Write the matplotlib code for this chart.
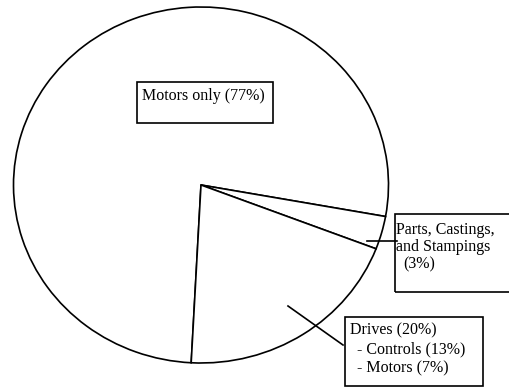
import matplotlib
matplotlib.use("Agg")
import matplotlib.pyplot as plt
from matplotlib.patches import Rectangle
from matplotlib.lines import Line2D

# Data
categories = ["Motors only", "Parts, Castings, and Stampings", "Drives"]
shares = [77, 3, 20]
drive_parts = ["Controls", "Motors"]
drive_shares = [13, 7]

W, H = 509, 388
fig = plt.figure(figsize=(W / 100, H / 100), dpi=100)
fig.patch.set_facecolor("white")

# pie geometry in pixels
cx, cy, rx, ry = 201, 185, 187.5, 178
ax = fig.add_axes([0, 0, 1, 1])
ax.pie(shares, startangle=-93, counterclock=False, radius=1,
       colors=["white"] * len(shares),
       wedgeprops=dict(edgecolor="black", linewidth=1.2))
ax.set_aspect("auto")
ax.set_xlim(-cx / rx, (W - cx) / rx)
ax.set_ylim(-(H - cy) / ry, cy / ry)
ax.axis("off")

def fx(px):
    return px / W

def fy(py):
    return 1 - py / H

font = dict(family=["Liberation Serif", "DejaVu Serif"], fontsize=11.5, color="black")

def box(x0, y0, x1, y1):
    fig.add_artist(Rectangle((fx(x0), fy(y1)), fx(x1) - fx(x0), fy(y0) - fy(y1),
                             transform=fig.transFigure, facecolor="none",
                             edgecolor="black", linewidth=1.2))

def line(x0, y0, x1, y1):
    fig.add_artist(Line2D([fx(x0), fx(x1)], [fy(y0), fy(y1)],
                          transform=fig.transFigure, color="black", linewidth=1.2))

# Motors only label
box(137, 82, 273, 123)
fig.text(fx(142), fy(96), f"{categories[0]} ({shares[0]}%)", va="center", ha="left", **font)

# Parts label
box(395, 214, 512, 292)
fig.text(fx(396), fy(230), "Parts, Castings,", va="center", ha="left", **font)
fig.text(fx(396), fy(247), "and Stampings", va="center", ha="left", **font)
fig.text(fx(403), fy(264), f"({shares[1]}%)", va="center", ha="left", **font)
line(367, 241, 397, 241)

# Drives label
box(345, 317, 483, 386)
fig.text(fx(350), fy(330), f"{categories[2]} ({shares[2]}%)", va="center", ha="left", **font)
fig.text(fx(357), fy(349), f"- {drive_parts[0]} ({drive_shares[0]}%)", va="center", ha="left", **font)
fig.text(fx(357), fy(368), f"- {drive_parts[1]} ({drive_shares[1]}%)", va="center", ha="left", **font)
line(288, 306, 343, 345)

fig.savefig("out.png", dpi=100, facecolor="white")
